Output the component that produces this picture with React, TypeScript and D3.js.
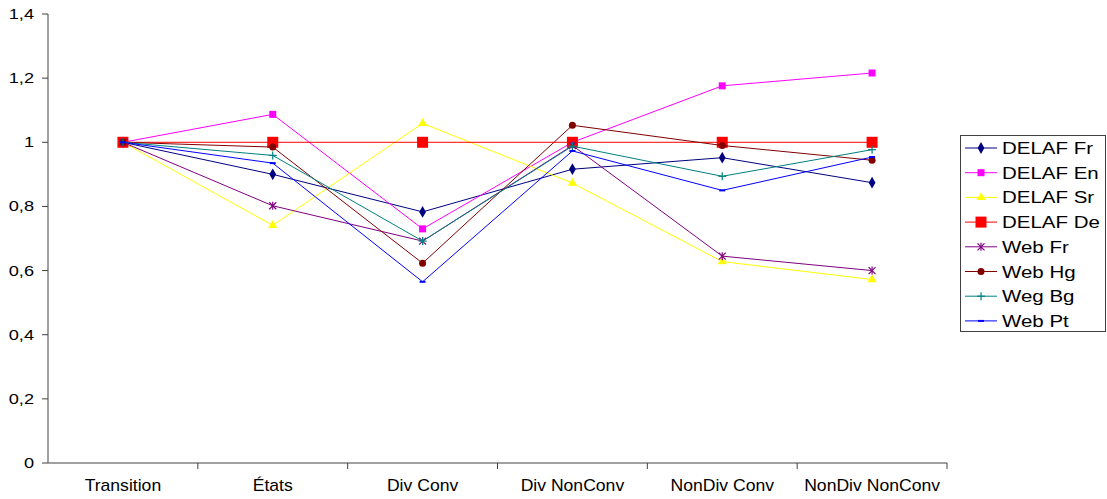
import React from "react";
import * as d3 from "d3";

const categories = ["Transition", "États", "Div Conv", "Div NonConv", "NonDiv Conv", "NonDiv NonConv"];
const seriesNames = ["DELAF Fr", "DELAF En", "DELAF Sr", "DELAF De", "Web Fr", "Web Hg", "Weg Bg", "Web Pt"];
const delafFr = [1, 0.9, 0.783, 0.916, 0.952, 0.874];
const delafEn = [1, 1.087, 0.73, 1.0, 1.176, 1.216];
const delafSr = [1, 0.741, 1.059, 0.873, 0.628, 0.572];
const delafDe = [1, 1, 1, 1, 1, 1];
const webFr = [1, 0.802, 0.692, 0.99, 0.645, 0.6];
const webHg = [1, 0.985, 0.623, 1.053, 0.99, 0.944];
const wegBg = [1, 0.959, 0.692, 0.988, 0.894, 0.977];
const webPt = [1, 0.935, 0.565, 0.973, 0.85, 0.954];
const yTicks = [0, 0.2, 0.4, 0.6, 0.8, 1, 1.2, 1.4];

const seriesValues = [delafFr, delafEn, delafSr, delafDe, webFr, webHg, wegBg, webPt];
const colors = ["#000080", "#FF00FF", "#FFFF00", "#FF0000", "#800080", "#800000", "#008080", "#0000FF"];
const markers = ["diamond", "square", "triangle", "bigsquare", "star", "circle", "plus", "dash"];

function Marker({ type, x, y, color }: { type: string; x: number; y: number; color: string }) {
  const t = `translate(${x},${y})`;
  switch (type) {
    case "diamond":
      return <path transform={t} d={d3.symbol(d3.symbolDiamond, 40)()!} fill={color} />;
    case "square":
      return <rect x={x - 3.5} y={y - 3.5} width={7} height={7} fill={color} />;
    case "bigsquare":
      return <rect x={x - 5.5} y={y - 5.5} width={11} height={11} fill={color} />;
    case "triangle":
      return <path transform={t} d={d3.symbol(d3.symbolTriangle, 36)()!} fill={color} />;
    case "circle":
      return <circle cx={x} cy={y} r={3.5} fill={color} />;
    case "star":
      return (
        <g transform={t} stroke={color} strokeWidth={1.2}>
          <line x1={-3.5} y1={-3.5} x2={3.5} y2={3.5} />
          <line x1={-3.5} y1={3.5} x2={3.5} y2={-3.5} />
          <line x1={0} y1={-4} x2={0} y2={4} />
        </g>
      );
    case "plus":
      return (
        <g transform={t} stroke={color} strokeWidth={1.2}>
          <line x1={-4} y1={0} x2={4} y2={0} />
          <line x1={0} y1={-4} x2={0} y2={4} />
        </g>
      );
    case "dash":
      return <line x1={x - 3} y1={y} x2={x + 3} y2={y} stroke={color} strokeWidth={2} />;
    default:
      return null;
  }
}

export default function App() {
  const width = 1107;
  const height = 499;
  const x = d3.scaleBand<string>().domain(categories).range([48, 947]);
  const y = d3.scaleLinear().domain([0, 1.4]).range([463, 14]);
  const cx = (c: string) => (x(c) as number) + x.bandwidth() / 2;
  const line = d3
    .line<number>()
    .x((_, i) => cx(categories[i]))
    .y((d) => y(d));
  const font = "Arial, 'Liberation Sans', sans-serif";
  const boundaries = categories.map((c) => (x(c) as number) + x.bandwidth());

  return (
    <svg width={width} height={height} style={{ position: "absolute", left: 0, top: 0, background: "#fff" }}>
      <rect width={width} height={height} fill="#fff" />
      {/* axes */}
      <line x1={48} y1={y(1.4)} x2={48} y2={463} stroke="#404040" strokeWidth={1} />
      <line x1={48} y1={463} x2={947} y2={463} stroke="#808080" strokeWidth={1.5} />
      {yTicks.map((t) => (
        <g key={t}>
          <line x1={42} x2={48} y1={y(t)} y2={y(t)} stroke="#404040" />
          <text
            transform={`translate(34,${y(t) + 5}) scale(1.3,1)`}
            textAnchor="end"
            fontFamily={font}
            fontSize={14}
            fill="#000"
          >
            {String(t).replace(".", ",")}
          </text>
        </g>
      ))}
      {boundaries.map((b, i) => (
        <line key={i} x1={b} x2={b} y1={463} y2={469} stroke="#404040" />
      ))}
      {categories.map((c) => (
        <text key={c} x={cx(c)} y={491} textAnchor="middle" fontFamily={font} fontSize={16} fill="#000"
          transform={`translate(${cx(c)},0) scale(1.1,1) translate(${-cx(c)},0)`}>
          {c}
        </text>
      ))}
      {/* series */}
      {seriesValues.map((vals, si) => (
        <g key={seriesNames[si]}>
          <path d={line(vals)!} fill="none" stroke={colors[si]} strokeWidth={1} />
          {vals.map((v, i) => (
            <Marker key={i} type={markers[si]} x={cx(categories[i])} y={y(v)} color={colors[si]} />
          ))}
        </g>
      ))}
      {/* legend */}
      <rect x={960.5} y={135.5} width={145} height={196} fill="#fff" stroke="#404040" strokeWidth={1} />
      {seriesNames.map((n, i) => {
        const ly = 148 + i * 24.7;
        return (
          <g key={n}>
            <line x1={965} x2={997} y1={ly} y2={ly} stroke={colors[i]} strokeWidth={1} />
            <Marker type={markers[i]} x={981} y={ly} color={colors[i]} />
            <text transform={`translate(1002,${ly + 6}) scale(1.28,1)`} fontFamily={font} fontSize={16} fill="#000">
              {n}
            </text>
          </g>
        );
      })}
    </svg>
  );
}
